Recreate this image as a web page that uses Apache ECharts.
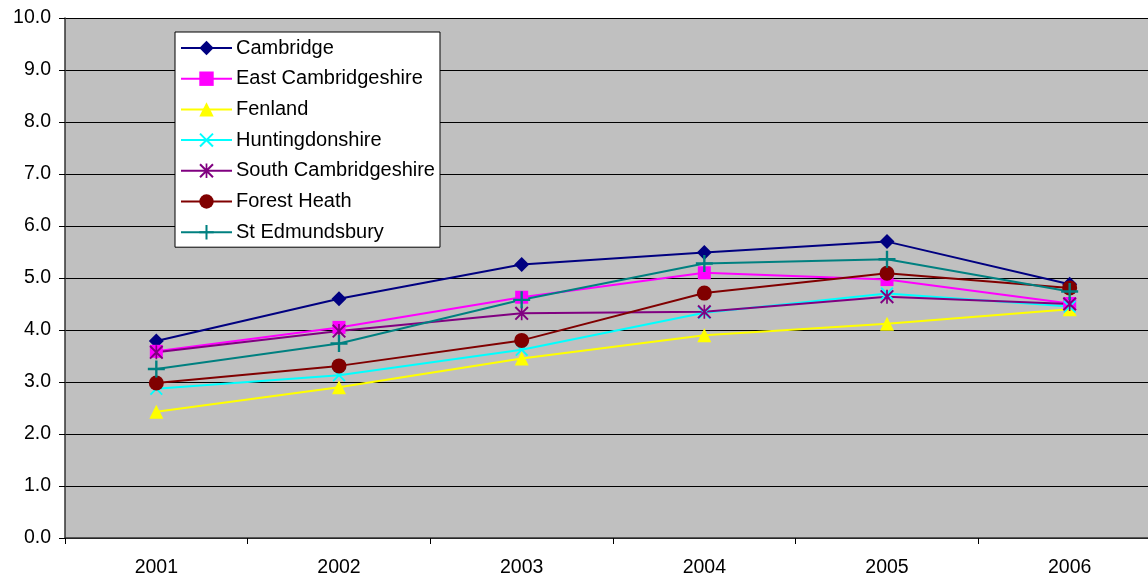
<!DOCTYPE html>
<html>
<head>
<meta charset="utf-8">
<script src="https://cdn.jsdelivr.net/npm/echarts@6/dist/echarts.min.js"></script>
<style>
  html, body { margin: 0; padding: 0; background: #fff; }
  #chart { width: 1148px; height: 575px; }
</style>
</head>
<body>
<div id="chart"></div>
<script>
// Years along the category axis
const years = ['2001', '2002', '2003', '2004', '2005', '2006'];

// Values per district
const cambridge      = [3.79, 4.60, 5.26, 5.49, 5.70, 4.88];
const eastCambs      = [3.59, 4.05, 4.63, 5.10, 4.97, 4.51];
const fenland        = [2.43, 2.90, 3.45, 3.90, 4.12, 4.40];
const huntingdonshire= [2.87, 3.13, 3.62, 4.33, 4.70, 4.45];
const southCambs     = [3.57, 3.98, 4.32, 4.35, 4.64, 4.50];
const forestHeath    = [2.98, 3.31, 3.80, 4.71, 5.09, 4.81];
const stEdmundsbury  = [3.25, 3.74, 4.58, 5.28, 5.36, 4.74];

// Stroke-style markers built as thin filled paths
const plusPath  = 'path://M4.3,0 H5.7 V10 H4.3 Z M0,4.3 H10 V5.7 H0 Z';
const crossPath = 'path://M0,1 L1,0 L5,4 L9,0 L10,1 L6,5 L10,9 L9,10 L5,6 L1,10 L0,9 L4,5 Z';
const starPath  = 'path://M0,1 L1,0 L5,4 L9,0 L10,1 L6,5 L10,9 L9,10 L5,6 L1,10 L0,9 L4,5 Z M4.4,0 H5.6 V10 H4.4 Z';

const seriesDefs = [
  { name: 'Cambridge',            data: cambridge,       color: '#000080', symbol: 'diamond',  size: 15 },
  { name: 'East Cambridgeshire',  data: eastCambs,       color: '#FF00FF', symbol: 'rect',     size: 13 },
  { name: 'Fenland',              data: fenland,         color: '#FFFF00', symbol: 'triangle', size: 14 },
  { name: 'Huntingdonshire',      data: huntingdonshire, color: '#00FFFF', symbol: crossPath,  size: 13 },
  { name: 'South Cambridgeshire', data: southCambs,      color: '#800080', symbol: starPath,   size: 14 },
  { name: 'Forest Heath',         data: forestHeath,     color: '#800000', symbol: 'circle',   size: 15 },
  { name: 'St Edmundsbury',       data: stEdmundsbury,   color: '#008080', symbol: plusPath,   size: 17 }
];

const chart = echarts.init(document.getElementById('chart'), null, { renderer: 'canvas' });

chart.setOption({
  animation: false,
  textStyle: { fontFamily: '"Liberation Sans", Arial, sans-serif' },
  grid: {
    left: 65, top: 18, bottom: 37, width: 1096,
    outerBoundsMode: 'none',
    show: true, backgroundColor: '#C0C0C0', borderWidth: 0
  },
  legend: {
    orient: 'vertical',
    left: 175, top: 32,
    backgroundColor: '#FFFFFF',
    borderColor: '#000000', borderWidth: 1,
    padding: [6, 5, 5, 5],
    itemWidth: 51, itemHeight: 18, itemGap: 10.7,
    textStyle: { fontSize: 20, color: '#000', padding: [0, 0, 0, -1] },
    data: seriesDefs.map(s => s.name)
  },
  xAxis: {
    type: 'category',
    data: years,
    boundaryGap: true,
    axisLine: { lineStyle: { color: '#333', width: 1.5 } },
    axisTick: { show: true, length: 6, alignWithLabel: false, lineStyle: { color: '#000' } },
    axisLabel: { fontSize: 19.5, color: '#000', margin: 20 },
    splitLine: { show: false }
  },
  yAxis: {
    type: 'value',
    min: 0, max: 10, interval: 1,
    axisLine: { show: true, lineStyle: { color: '#333', width: 1.5 } },
    axisTick: { show: true, length: 6, lineStyle: { color: '#000' } },
    axisLabel: { fontSize: 19.5, color: '#000', margin: 14, padding: [3, 0, 0, 0], formatter: v => v.toFixed(1) },
    splitLine: { show: true, lineStyle: { color: '#000', width: 1 } }
  },
  series: seriesDefs.map(s => ({
    name: s.name,
    type: 'line',
    data: s.data,
    symbol: s.symbol,
    symbolSize: s.size,
    showAllSymbol: true,
    lineStyle: { color: s.color, width: 2 },
    itemStyle: { color: s.color, borderWidth: 0 },
    emphasis: { disabled: true }
  }))
});
</script>
</body>
</html>
